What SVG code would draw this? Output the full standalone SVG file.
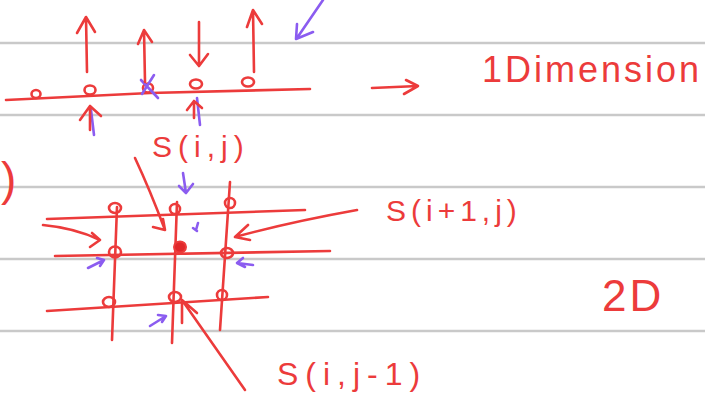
<svg xmlns="http://www.w3.org/2000/svg" width="705" height="395" viewBox="0 0 705 395">
<style>
.rule{stroke:#c9c9c9;stroke-width:2.5;fill:none}
.r{stroke:#ec3b3b;stroke-width:2.6;fill:none;stroke-linecap:round;stroke-linejoin:round}
.p{stroke:#8b5cf0;stroke-width:2.6;fill:none;stroke-linecap:round;stroke-linejoin:round}
.t{fill:#ec3b3b;font-family:"Liberation Sans",Arial,sans-serif}
</style>
<rect width="705" height="395" fill="#ffffff"/>
<g id="rules">
<line class="rule" x1="0" y1="43" x2="705" y2="43"/>
<line class="rule" x1="0" y1="115" x2="705" y2="115"/>
<line class="rule" x1="0" y1="187" x2="705" y2="187"/>
<line class="rule" x1="0" y1="259" x2="705" y2="259"/>
<line class="rule" x1="0" y1="331" x2="705" y2="331"/>
</g>
<g id="oneD">
<path class="r" d="M6 100 L150 93 L310 89"/>
<ellipse class="r" cx="36" cy="94" rx="4.5" ry="4"/>
<ellipse class="r" cx="90" cy="90" rx="5.5" ry="4.5"/>
<ellipse class="r" cx="148" cy="88" rx="5" ry="4.5"/>
<ellipse class="r" cx="196" cy="84" rx="6" ry="4.5"/>
<ellipse class="r" cx="248" cy="82" rx="6" ry="4.5"/>
<path class="p" d="M141 80 L158 98 M154 75 L142 94"/>
<path class="r" d="M87 72 L86 17 M77 33 L86 17 L95 32"/>
<path class="r" d="M145 82 L144 30 M138 44 L144 30 L152 42"/>
<path class="r" d="M199 22 L199 65 M190 55 L199 66 L208 54"/>
<path class="r" d="M254 72 L253 10 M247 27 L253 10 L262 24"/>
<path class="p" d="M91 110 L94 135"/>
<path class="r" d="M90 130 L90 106 M80 120 L90 106 L101 116"/>
<path class="p" d="M197 98 L200 125"/>
<path class="r" d="M194 118 L194 101 M187 110 L194 101 L202 108"/>
<path class="p" d="M323 0 L297 38 M297 24 L296 39 L313 32"/>
<path class="r" d="M372 88 L418 86 M406 80 L418 86 L404 94"/>
<text class="t" x="482" y="82" font-size="36" letter-spacing="3">1Dimension</text>
</g>
<g id="paren">
<text class="t" x="1" y="195" font-size="46">)</text>
</g>
<g id="grid">
<path class="r" d="M47 219 L305 210"/>
<path class="r" d="M55 256 L330 251"/>
<path class="r" d="M47 311 L268 297"/>
<path class="r" d="M117 207 L112 340"/>
<path class="r" d="M177 202 L172 343"/>
<path class="r" d="M230 182 L220 330"/>
<ellipse class="r" cx="115" cy="208" rx="6" ry="5"/>
<ellipse class="r" cx="175" cy="209" rx="5" ry="5"/>
<ellipse class="r" cx="230" cy="203" rx="5" ry="5"/>
<ellipse class="r" cx="115" cy="252" rx="6" ry="5.5"/>
<ellipse cx="180" cy="247" rx="6" ry="5.5" fill="#e0282a" stroke="#ec3b3b" stroke-width="2"/>
<ellipse class="r" cx="227" cy="253" rx="6" ry="5"/>
<ellipse class="r" cx="109" cy="302" rx="6" ry="5"/>
<ellipse class="r" cx="175" cy="297" rx="6" ry="5"/>
<ellipse class="r" cx="222" cy="295" rx="5" ry="5"/>
</g>
<g id="arrows2D">
<path class="r" d="M43 225 Q75 228 100 240 M92 233 L100 240 L90 247"/>
<path class="r" d="M135 158 Q150 190 165 230 M153 227 L165 230 L163 219"/>
<path class="r" d="M357 210 Q290 222 235 237 M248 225 L235 237 L250 240"/>
<path class="r" d="M245 390 Q210 340 182 300 M182 323 L182 300 L197 313"/>
<path class="p" d="M183 173 L186 193 M179 186 L186 193 L193 184"/>
<path class="p" d="M198 223 L196 230 M193 228 L197 231"/>
<path class="p" d="M88 268 L104 260 M97 258 L104 260 L100 266"/>
<path class="p" d="M253 265 L237 263 M243 258 L237 263 L245 267"/>
<path class="p" d="M150 326 L166 316 M158 315 L166 316 L162 322"/>
</g>
<g id="labels">
<text class="t" x="152" y="157" font-size="30" letter-spacing="6">S(i,j)</text>
<text class="t" x="386" y="221" font-size="30" letter-spacing="5">S(i+1,j)</text>
<text class="t" x="602" y="311" font-size="44" letter-spacing="3">2D</text>
<text class="t" x="277" y="385" font-size="32" letter-spacing="7">S(i,j-1)</text>
</g>
</svg>
